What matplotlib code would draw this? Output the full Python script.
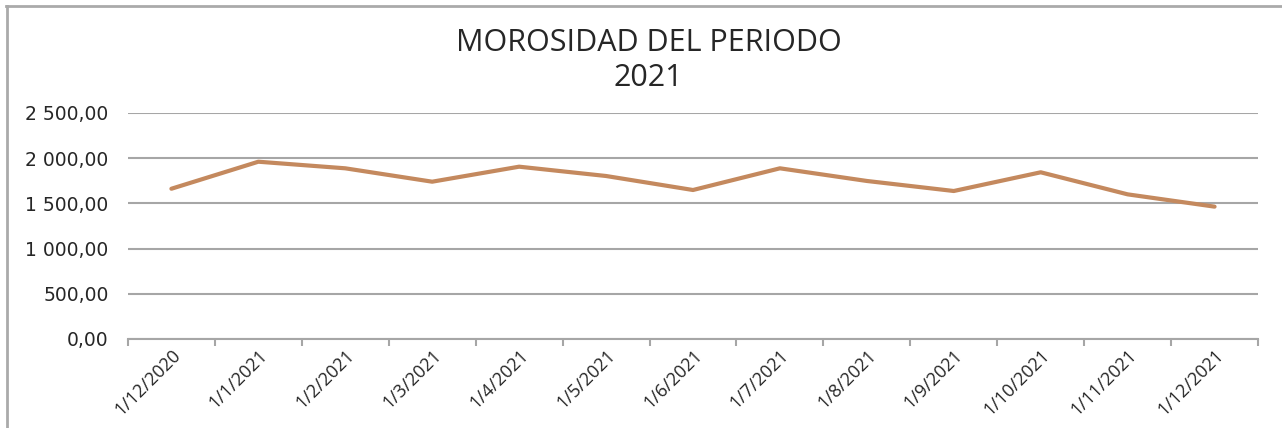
import matplotlib
matplotlib.use('Agg')
import matplotlib.pyplot as plt
from matplotlib.ticker import FuncFormatter, FixedLocator
from matplotlib.lines import Line2D

fechas = ['1/12/2020', '1/1/2021', '1/2/2021', '1/3/2021', '1/4/2021', '1/5/2021',
          '1/6/2021', '1/7/2021', '1/8/2021', '1/9/2021', '1/10/2021', '1/11/2021',
          '1/12/2021']
morosidad = [1662, 1961, 1888, 1740, 1906, 1803, 1648, 1888, 1748, 1637, 1844, 1600, 1464]

plt.rcParams['font.family'] = ['Open Sans', 'DejaVu Sans']

fig = plt.figure(figsize=(12.82, 4.28), dpi=100)
ax = fig.add_axes([0.0998, 0.208, 0.8815, 0.528])

x = list(range(len(fechas)))
ax.plot(x, morosidad, color='#C4895E', linewidth=3, solid_capstyle='round', solid_joinstyle='round')

ax.set_xlim(-0.5, len(fechas) - 0.5)
ax.set_ylim(0, 2500)
ax.set_yticks([0, 500, 1000, 1500, 2000, 2500])


def fmt(v, pos):
    s = f'{v:,.2f}'
    return s.replace(',', ' ').replace('.', ',')


ax.yaxis.set_major_formatter(FuncFormatter(fmt))
ax.grid(axis='y', color='#a6a6a6', linewidth=1.5)
ax.set_axisbelow(True)

for s in ['top', 'right', 'left']:
    ax.spines[s].set_visible(False)
ax.spines['bottom'].set_color('#a6a6a6')
ax.spines['bottom'].set_linewidth(1.5)

# ticks between categories, labels at centers
ax.xaxis.set_major_locator(FixedLocator([i - 0.5 for i in range(len(fechas) + 1)]))
ax.xaxis.set_major_formatter(FuncFormatter(lambda v, p: ''))
ax.set_xticks(x, minor=True)
ax.set_xticklabels(fechas, minor=True, rotation=45, ha='right', va='top',
                   rotation_mode='anchor', fontsize=13)
ax.tick_params(axis='x', which='major', length=5, width=1.5, color='#a6a6a6', direction='out')
ax.tick_params(axis='x', which='minor', length=0, pad=5)
ax.tick_params(axis='y', length=0, pad=14, labelsize=13.5, labelcolor='#262626')
for lab in ax.get_yticklabels():
    lab.set_family(['DejaVu Sans'])
for lab in ax.get_xticklabels(minor=True):
    lab.set_color('#262626')

fig.text(0.506, 0.859, 'MOROSIDAD DEL PERIODO\n2021', ha='center', va='center',
         fontsize=22, color='#262626', linespacing=1.2)

# chart frame (top and left edges visible)
fig.add_artist(Line2D([0.005, 1.0], [0.985, 0.985], color='#aaaaaa', linewidth=2))
fig.add_artist(Line2D([0.0055, 0.0055], [0.0, 0.985], color='#aaaaaa', linewidth=2))

fig.savefig('out.png', dpi=100)
